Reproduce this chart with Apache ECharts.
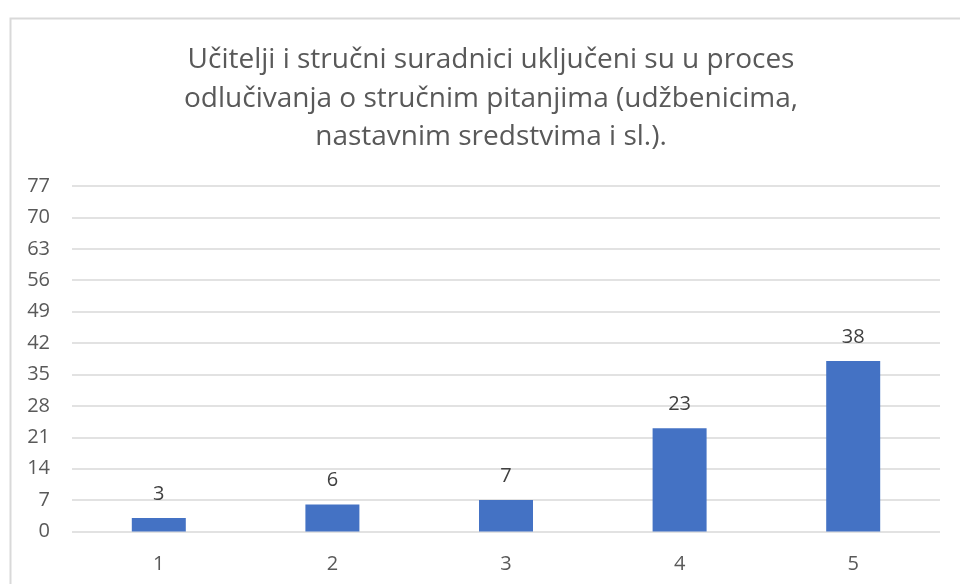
<!DOCTYPE html>
<html>
<head>
<meta charset="utf-8">
<script src="https://cdn.jsdelivr.net/npm/echarts@6/dist/echarts.min.js"></script>
<style>
  html, body { margin: 0; padding: 0; background: #fff; }
  #chart { width: 960px; height: 584px; }
</style>
</head>
<body>
<div id="chart"></div>
<script>
// Survey answers (rating 1–5) and number of respondents per answer
const categories = ['1', '2', '3', '4', '5'];
const counts = [3, 6, 7, 23, 38];
const titleLines = [
  'Učitelji i stručni suradnici uključeni su u proces',
  'odlučivanja o stručnim pitanjima (udžbenicima,',
  'nastavnim sredstvima i sl.).'
];

const FONT = '"Open Sans", "Noto Sans", sans-serif';

const chart = echarts.init(document.getElementById('chart'), null, { renderer: 'canvas' });
chart.setOption({
  animation: false,
  backgroundColor: '#ffffff',
  graphic: [{
    type: 'rect',
    left: 8, top: 16,
    shape: { width: 1000, height: 620 },
    style: { fill: 'none', stroke: '#d9d9d9', lineWidth: 2 },
    silent: true
  }],
  title: {
    text: titleLines.join('\n'),
    left: 486,
    top: 36,
    textAlign: 'center',
    textStyle: {
      fontFamily: FONT,
      fontSize: 28,
      fontWeight: 'normal',
      color: '#595959',
      lineHeight: 38.5
    }
  },
  grid: { left: 72, right: 20, top: 186, bottom: 52.5, containLabel: false },
  xAxis: {
    type: 'category',
    data: categories,
    axisLine: { show: false },
    axisTick: { show: false },
    axisLabel: { color: '#595959', fontSize: 20, fontFamily: FONT, margin: 23 }
  },
  yAxis: {
    type: 'value',
    min: 0, max: 77, interval: 7,
    axisLine: { show: false },
    axisTick: { show: false },
    axisLabel: { color: '#595959', fontSize: 20, fontFamily: FONT, margin: 22 },
    splitLine: { lineStyle: { color: '#d9d9d9', width: 1.5 } }
  },
  series: [{
    type: 'bar',
    data: counts,
    barWidth: 54,
    itemStyle: { color: '#4472c4' },
    label: {
      show: true,
      position: 'top',
      distance: 14,
      color: '#404040',
      fontSize: 20,
      fontFamily: FONT
    }
  }]
});
</script>
</body>
</html>
